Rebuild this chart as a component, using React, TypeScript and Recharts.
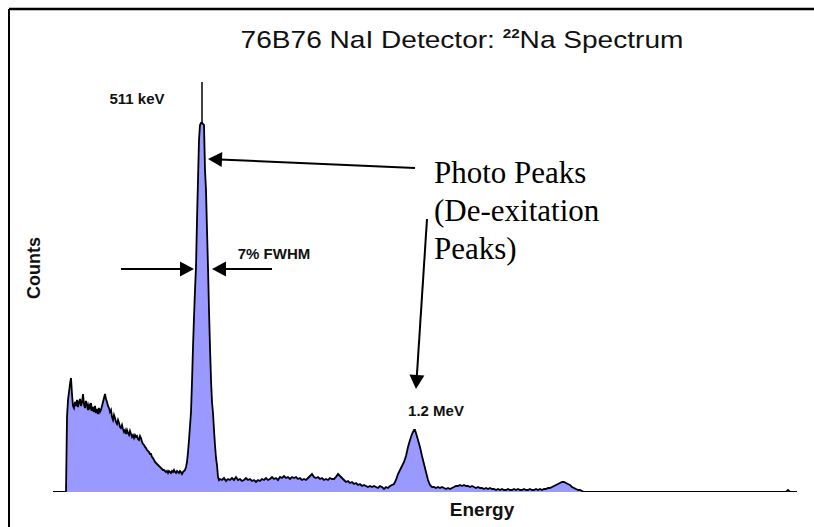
import React from 'react';
import { ComposedChart, Area, XAxis, YAxis, ReferenceLine } from 'recharts';

// [channel, counts]
const spectrum: [number, number][] = [
  [53, 0], [66, 0], [67, 75], [68, 92], [69, 100], [70, 108], [71, 114], [72, 98], [73, 86], [74, 84],
  [75, 90], [76, 86], [77, 92], [78, 85], [79, 90], [80, 93], [81, 86], [82, 90], [83, 98], [84, 88],
  [85, 84], [86, 91], [87, 88], [88, 82], [89, 87], [90, 84], [91, 89], [92, 81], [93, 85], [94, 80],
  [95, 86], [96, 79], [97, 83], [98, 78], [99, 84], [100, 80], [101, 82], [102, 86], [103, 90], [104, 94],
  [105, 98], [106, 93], [107, 90], [108, 86], [109, 84], [110, 80], [111, 82], [112, 75], [113, 72], [114, 77],
  [115, 74], [116, 70], [117, 68], [118, 72], [119, 69], [120, 65], [121, 64], [122, 67], [123, 63], [124, 60],
  [125, 62], [126, 58], [127, 62], [128, 59], [129, 57], [130, 61], [131, 58], [132, 55], [133, 57], [134, 54],
  [135, 57], [136, 55], [137, 56], [138, 53], [139, 52], [140, 56], [141, 54], [142, 50], [143, 48], [144, 47],
  [145, 45], [146, 44], [147, 42], [148, 41], [149, 40], [150, 38], [151, 38], [152, 35], [153, 34], [154, 32],
  [155, 30], [156, 29], [157, 28], [158, 27], [159, 26], [160, 25], [161, 24], [162, 23], [163, 22], [164, 22],
  [165, 21], [166, 20], [167, 21], [168, 19], [169, 21], [170, 20], [171, 19], [172, 21], [173, 20], [174, 22],
  [175, 20], [176, 19], [177, 21], [178, 20], [179, 19], [180, 21], [181, 20], [182, 18], [183, 20], [184, 21],
  [185, 22], [186, 25], [187, 30], [188, 40], [189, 52],
  [190, 66], [191, 80], [192, 110], [193, 145], [194, 175], [195, 202], [196, 225], [197, 272], [198, 312], [199, 352],
  [200, 367], [201, 369], [202, 369], [203, 368], [204, 367], [205, 322], [206, 302], [207, 262], [208, 225], [209, 182],
  [210, 145], [211, 112], [212, 90], [213, 79], [214, 62], [215, 47], [216, 34], [217, 27], [218, 15], [219, 12],
  [220, 13], [222, 12], [224, 14], [226, 11], [228, 13], [230, 12], [232, 14], [234, 12], [236, 15], [238, 12],
  [240, 13], [242, 11], [244, 12], [246, 14], [248, 12], [250, 13], [252, 11], [254, 12], [256, 10], [258, 12],
  [260, 11], [262, 13], [264, 12], [266, 14], [268, 12], [270, 13], [272, 15], [274, 13], [276, 14], [278, 12],
  [280, 15], [282, 14], [284, 16], [286, 14], [288, 15], [290, 13], [292, 15], [294, 14], [296, 15], [298, 13],
  [300, 14], [302, 12], [304, 13], [306, 12], [308, 14], [310, 16], [312, 18], [314, 15], [316, 14], [318, 15],
  [320, 13], [322, 14], [324, 12], [326, 13], [328, 12], [330, 14], [332, 13], [334, 13], [336, 15], [338, 18],
  [340, 16], [342, 14], [344, 12], [346, 10], [348, 11], [350, 9], [352, 10], [354, 8], [356, 9], [358, 7],
  [360, 8], [362, 6], [364, 7], [366, 6], [368, 5], [370, 6], [372, 5], [374, 6], [376, 5], [378, 4],
  [380, 6], [382, 5], [384, 3], [386, 5], [388, 4], [390, 6], [392, 7], [394, 8], [396, 12], [398, 18],
  [400, 22], [402, 26], [404, 30], [406, 36], [408, 45], [410, 52], [412, 58], [414, 62], [415, 62], [416, 59],
  [418, 52], [420, 45], [422, 36], [424, 28], [426, 20], [428, 12], [430, 7], [432, 5], [434, 5], [436, 4],
  [438, 5], [440, 4], [442, 5], [444, 4], [446, 3], [448, 4], [450, 3], [452, 4], [454, 5], [456, 6],
  [458, 6], [460, 7], [462, 6], [464, 7], [466, 6], [468, 6], [470, 5], [472, 6], [474, 5], [476, 4],
  [478, 5], [480, 4], [482, 4], [484, 3], [486, 4], [488, 3], [490, 4], [492, 3], [494, 3], [496, 2],
  [498, 3], [500, 2], [502, 3], [504, 2], [506, 2], [508, 3], [510, 2], [512, 2], [514, 3], [516, 2],
  [518, 3], [520, 2], [522, 2], [524, 3], [526, 2], [528, 2], [530, 3], [532, 2], [534, 2], [536, 3],
  [538, 2], [540, 3], [542, 2], [544, 3], [546, 3], [548, 4], [550, 4], [552, 5], [554, 6], [556, 7],
  [558, 8], [560, 9], [562, 10], [564, 10], [566, 9], [568, 8], [570, 7], [572, 5], [574, 4], [576, 3],
  [578, 2], [580, 2], [582, 1], [584, 0], [786, 0], [788, 2], [790, 0], [797, 0],
];

const data = spectrum.map(([channel, counts]) => ({ channel, counts }));

const title = '76B76 NaI Detector:  ';
const titleIsotope = '22';
const titleTail = 'Na Spectrum';
const peak1Label = '511 keV';
const peak2Label = '1.2 MeV';
const fwhmLabel = '7% FWHM';
const noteLines = ['Photo Peaks', '(De-exitation', 'Peaks)'];
const xLabel = 'Energy';
const yLabel = 'Counts';

const W = 814;
const H = 527;

const Arrow = (props: any) => {
  const { x1, y1, x2, y2 } = props;
  const dx = x2 - x1;
  const dy = y2 - y1;
  const len = Math.sqrt(dx * dx + dy * dy) || 1;
  const ux = dx / len;
  const uy = dy / len;
  const headL = 14;
  const headW = 7.5;
  const bx = x2 - ux * headL;
  const by = y2 - uy * headL;
  const px = -uy;
  const py = ux;
  return (
    <g>
      <line x1={x1} y1={y1} x2={bx + ux * 2} y2={by + uy * 2} stroke="#000" strokeWidth={2} />
      <polygon
        points={`${x2},${y2} ${bx + px * headW},${by + py * headW} ${bx - px * headW},${by - py * headW}`}
        fill="#000"
      />
    </g>
  );
};

const Plain = (props: any) => {
  const { x1, y1, x2, y2 } = props;
  return <line x1={x1} y1={y1} x2={x2} y2={y2} stroke="#000" strokeWidth={1.5} />;
};

const sans = 'Liberation Sans, Arial, sans-serif';
const serif = 'Liberation Serif, Times New Roman, serif';

export default function App() {
  return (
    <div style={{ position: 'absolute', left: 0, top: 0, width: W, height: H, background: '#fff' }}>
      <ComposedChart
        width={W}
        height={H}
        data={data}
        margin={{ top: 28, right: 17, bottom: 35, left: 53 }}
      >
        <XAxis
          dataKey="channel"
          type="number"
          domain={[53, 797]}
          allowDataOverflow
          tick={false}
          tickLine={false}
          height={0}
          axisLine={{ stroke: '#555', strokeWidth: 2 }}
        />
        <YAxis
          type="number"
          domain={[0, 464]}
          allowDataOverflow
          tick={false}
          tickLine={false}
          width={0}
          axisLine={{ stroke: '#777', strokeWidth: 1 }}
        />
        <Area
          type="linear"
          dataKey="counts"
          stroke="#000"
          strokeWidth={1.8}
          fill="#9999ff"
          fillOpacity={1}
          dot={false}
          activeDot={false}
          isAnimationActive={false}
        />
        <ReferenceLine segment={[{ x: 202, y: 369 }, { x: 202, y: 410 }]} shape={Plain} />
        <ReferenceLine segment={[{ x: 415, y: 324 }, { x: 208, y: 333 }]} shape={Arrow} />
        <ReferenceLine segment={[{ x: 427, y: 273 }, { x: 416, y: 103 }]} shape={Arrow} />
        <ReferenceLine segment={[{ x: 121, y: 223 }, { x: 194, y: 223 }]} shape={Arrow} />
        <ReferenceLine segment={[{ x: 272, y: 223 }, { x: 212, y: 223 }]} shape={Arrow} />
      </ComposedChart>
      <svg
        width={W}
        height={H}
        style={{ position: 'absolute', left: 0, top: 0, pointerEvents: 'none' }}
      >
        <line x1={9} y1={9} x2={W} y2={9} stroke="#000" strokeWidth={2.5} />
        <line x1={9} y1={9} x2={9} y2={H} stroke="#000" strokeWidth={2} />
        <text
          x={462}
          y={48}
          textAnchor="middle"
          fontFamily={sans}
          fontSize={24}
          fill="#111"
          transform="translate(462 0) scale(1.17 1) translate(-462 0)"
        >
          {title}
          <tspan fontSize={13} fontWeight="bold" dy={-10}>{titleIsotope}</tspan>
          <tspan dy={10}>{titleTail}</tspan>
        </text>
        <text x={137} y={104} textAnchor="middle" fontFamily={sans} fontWeight="bold" fontSize={15} fill="#111">
          {peak1Label}
        </text>
        <text x={274} y={259} textAnchor="middle" fontFamily={sans} fontWeight="bold" fontSize={15} fill="#111">
          {fwhmLabel}
        </text>
        <text x={436} y={416} textAnchor="middle" fontFamily={sans} fontWeight="bold" fontSize={15} fill="#111">
          {peak2Label}
        </text>
        {noteLines.map((line, i) => (
          <text key={line} x={434} y={183 + i * 38} fontFamily={serif} fontSize={31} fill="#000">
            {line}
          </text>
        ))}
        <text x={482} y={516} textAnchor="middle" fontFamily={sans} fontWeight="bold" fontSize={19} fill="#111">
          {xLabel}
        </text>
        <text
          x={35}
          y={268}
          textAnchor="middle"
          transform="rotate(-90 35 268)"
          dominantBaseline="middle"
          fontFamily={sans}
          fontWeight="bold"
          fontSize={18}
          fill="#111"
        >
          {yLabel}
        </text>
      </svg>
    </div>
  );
}
